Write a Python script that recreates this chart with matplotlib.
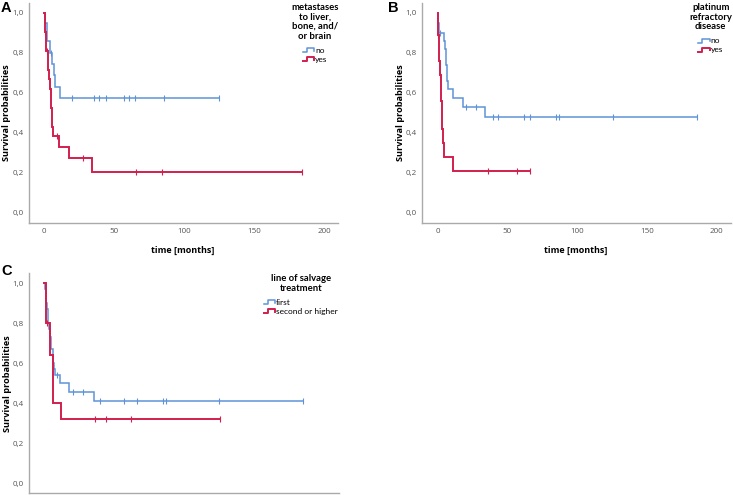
import matplotlib
matplotlib.use("Agg")
import matplotlib.pyplot as plt
from matplotlib.legend_handler import HandlerBase
from matplotlib.lines import Line2D
import numpy as np

plt.rcParams['font.family'] = ['Open Sans', 'DejaVu Sans']

BLUE = '#5E93D8'
RED = '#D11F4E'

# ---- Panel A: metastases to liver, bone, and/or brain ----
a_no_t = [0, 0.5, 2, 4, 6, 7, 8, 11.4]
a_no_s = [1.0, 0.95, 0.857, 0.80, 0.743, 0.686, 0.629, 0.571]
a_no_end = 125
a_no_cens = [5, 20, 36, 39.5, 44, 57, 61, 65, 86, 125]

a_yes_t = [0, 0.5, 1.2, 2.6, 3.2, 3.8, 4.3, 4.8, 5.2, 5.5, 5.8, 6.1, 11, 17.6, 34.3]
a_yes_s = [1.0, 0.905, 0.81, 0.762, 0.714, 0.667, 0.619, 0.571, 0.524, 0.476, 0.429, 0.381, 0.327, 0.273, 0.205]
a_yes_end = 184
a_yes_cens = [1.0, 2.0, 9, 27.6, 65.5, 84, 184]

# ---- Panel B: platinum refractory disease ----
b_no_t = [0, 0.5, 1, 4.5, 5.2, 5.8, 6.2, 6.6, 7, 7.4, 11, 17.9, 34]
b_no_s = [1.0, 0.95, 0.90, 0.86, 0.82, 0.78, 0.74, 0.70, 0.66, 0.62, 0.575, 0.53, 0.477]
b_no_end = 186
b_no_cens = [2, 20, 27.6, 40, 43.6, 62, 66, 85, 87.3, 126, 186]

b_yes_t = [0, 0.3, 0.8, 1.2, 1.6, 2.2, 2.6, 2.9, 3.2, 3.6, 4.8, 11.2]
b_yes_s = [1.0, 0.89, 0.82, 0.76, 0.69, 0.63, 0.56, 0.49, 0.42, 0.35, 0.28, 0.21]
b_yes_end = 66
b_yes_cens = [0.5, 1.7, 36, 57, 66]

# ---- Panel C: line of salvage treatment ----
c_first_t = [0, 0.5, 1, 1.5, 2, 2.5, 3, 3.5, 4, 4.5, 5, 6, 6.5, 7, 7.9, 11, 18, 35.2]
c_first_s = [1.0, 0.97, 0.93, 0.90, 0.87, 0.83, 0.80, 0.77, 0.73, 0.70, 0.67, 0.63, 0.60, 0.57, 0.54, 0.50, 0.457, 0.41]
c_first_end = 185
c_first_cens = [9, 20.5, 28, 40, 57, 66, 85, 87, 125, 185]

c_second_t = [0, 1, 3.8, 4.2, 5.9, 6.1, 6.3, 11.9]
c_second_s = [1.0, 0.80, 0.72, 0.64, 0.56, 0.48, 0.40, 0.32]
c_second_end = 125.7
c_second_cens = [2, 36, 44, 62, 125.7]

y_ticks = [0.0, 0.2, 0.4, 0.6, 0.8, 1.0]
y_ticklabels = ['0,0', '0,2', '0,4', '0,6', '0,8', '1,0']
x_ticks = [0, 50, 100, 150, 200]


class StepHandler(HandlerBase):
    def create_artists(self, legend, orig_handle, xdescent, ydescent,
                       width, height, fontsize, trans):
        x0 = -xdescent
        y0 = -ydescent
        xs = np.array([0, 0.35, 0.35, 1.0, 1.0]) * width + x0
        ys = np.array([0.1, 0.1, 0.8, 0.8, 0.35]) * height + y0
        ln = Line2D(xs, ys, color=orig_handle.get_color(),
                    lw=orig_handle.get_linewidth(), transform=trans)
        return [ln]


def km(ax, t, s, end, cens, color, lw):
    tt = list(t) + [end]
    ss = list(s) + [s[-1]]
    ax.step(tt, ss, where='post', color=color, lw=lw, solid_joinstyle='miter')
    tarr = np.array(t)
    cy = [s[np.searchsorted(tarr, c, side='right') - 1] for c in cens]
    ax.plot(cens, cy, ls='none', marker='|', ms=4, mew=0.8, color=color)


def style(ax, xlim, show_x=True):
    ax.set_xlim(*xlim)
    ax.set_ylim(-0.05, 1.05)
    for sp in ['top', 'right']:
        ax.spines[sp].set_visible(False)
    for sp in ['left', 'bottom']:
        ax.spines[sp].set_color('#AAAAAA')
        ax.spines[sp].set_linewidth(1.0)
    ax.set_yticks(y_ticks)
    ax.set_yticklabels(y_ticklabels)
    ax.set_xticks(x_ticks)
    ax.tick_params(length=0, labelsize=5.8, labelcolor='#555555', pad=4)
    ax.set_ylabel('Survival probabilities', fontsize=6.6, fontweight='bold')
    ax.yaxis.set_label_coords(-0.057, 0.5)
    if show_x:
        ax.set_xlabel('time [months]', fontsize=6.5, fontweight='bold')
        ax.xaxis.set_label_coords(0.498, -0.105)
    else:
        ax.set_xticklabels([])


W, H = 733, 495
fig = plt.figure(figsize=(W / 100, H / 100), dpi=100)


def axes_px(left, right, top, bottom):
    return fig.add_axes([left / W, 1 - bottom / H, (right - left) / W, (bottom - top) / H])


axA = axes_px(29, 338.3, 2.7, 222.7)
axB = axes_px(422.3, 731, 2.7, 222.7)
axC = axes_px(29.3, 338.6, 273.3, 493.3)

style(axA, (-10.7, 210.2))
style(axB, (-11.0, 210.3))
style(axC, (-10.7, 210.2), show_x=False)

km(axA, a_no_t, a_no_s, a_no_end, a_no_cens, BLUE, 1.1)
km(axA, a_yes_t, a_yes_s, a_yes_end, a_yes_cens, RED, 1.4)
km(axB, b_no_t, b_no_s, b_no_end, b_no_cens, BLUE, 1.1)
km(axB, b_yes_t, b_yes_s, b_yes_end, b_yes_cens, RED, 1.4)
km(axC, c_first_t, c_first_s, c_first_end, c_first_cens, BLUE, 1.1)
km(axC, c_second_t, c_second_s, c_second_end, c_second_cens, RED, 1.4)


def add_legend(labels, title, cx, top):
    h = [Line2D([], [], color=BLUE, lw=1.1), Line2D([], [], color=RED, lw=1.4)]
    lg = fig.legend(h, labels, title=title, loc='upper center',
                    bbox_to_anchor=(cx / W, 1 - top / H), frameon=False,
                    prop={'family': 'Lato', 'size': 6.0},
                    title_fontproperties={'family': 'Lato', 'size': 6.8, 'weight': 'bold'},
                    borderpad=0, borderaxespad=0, handlelength=1.4,
                    handletextpad=0.1, labelspacing=0.25,
                    handler_map={Line2D: StepHandler()})
    lg.get_title().set_multialignment('center')
    lg.get_title().set_linespacing(1.08)
    lg._legend_box.sep = 4.5
    return lg


add_legend(['no', 'yes'], 'metastases\nto liver,\nbone, and/\nor brain', 315, 3)
add_legend(['no', 'yes'], 'platinum\nrefractory\ndisease', 710.7, 3)
add_legend(['first', 'second or higher'], 'line of salvage\ntreatment', 300.7, 274)

fig.text(1 / W, 1 - 8 / H, 'A', fontsize=10.5, fontweight='bold', family='Liberation Sans', va='center')
fig.text(388 / W, 1 - 8 / H, 'B', fontsize=10.5, fontweight='bold', family='Liberation Sans', va='center')
fig.text(1 / W, 1 - 271 / H, 'C', fontsize=10.5, fontweight='bold', family='Liberation Sans', va='center')

fig.savefig('out.png', dpi=100)
